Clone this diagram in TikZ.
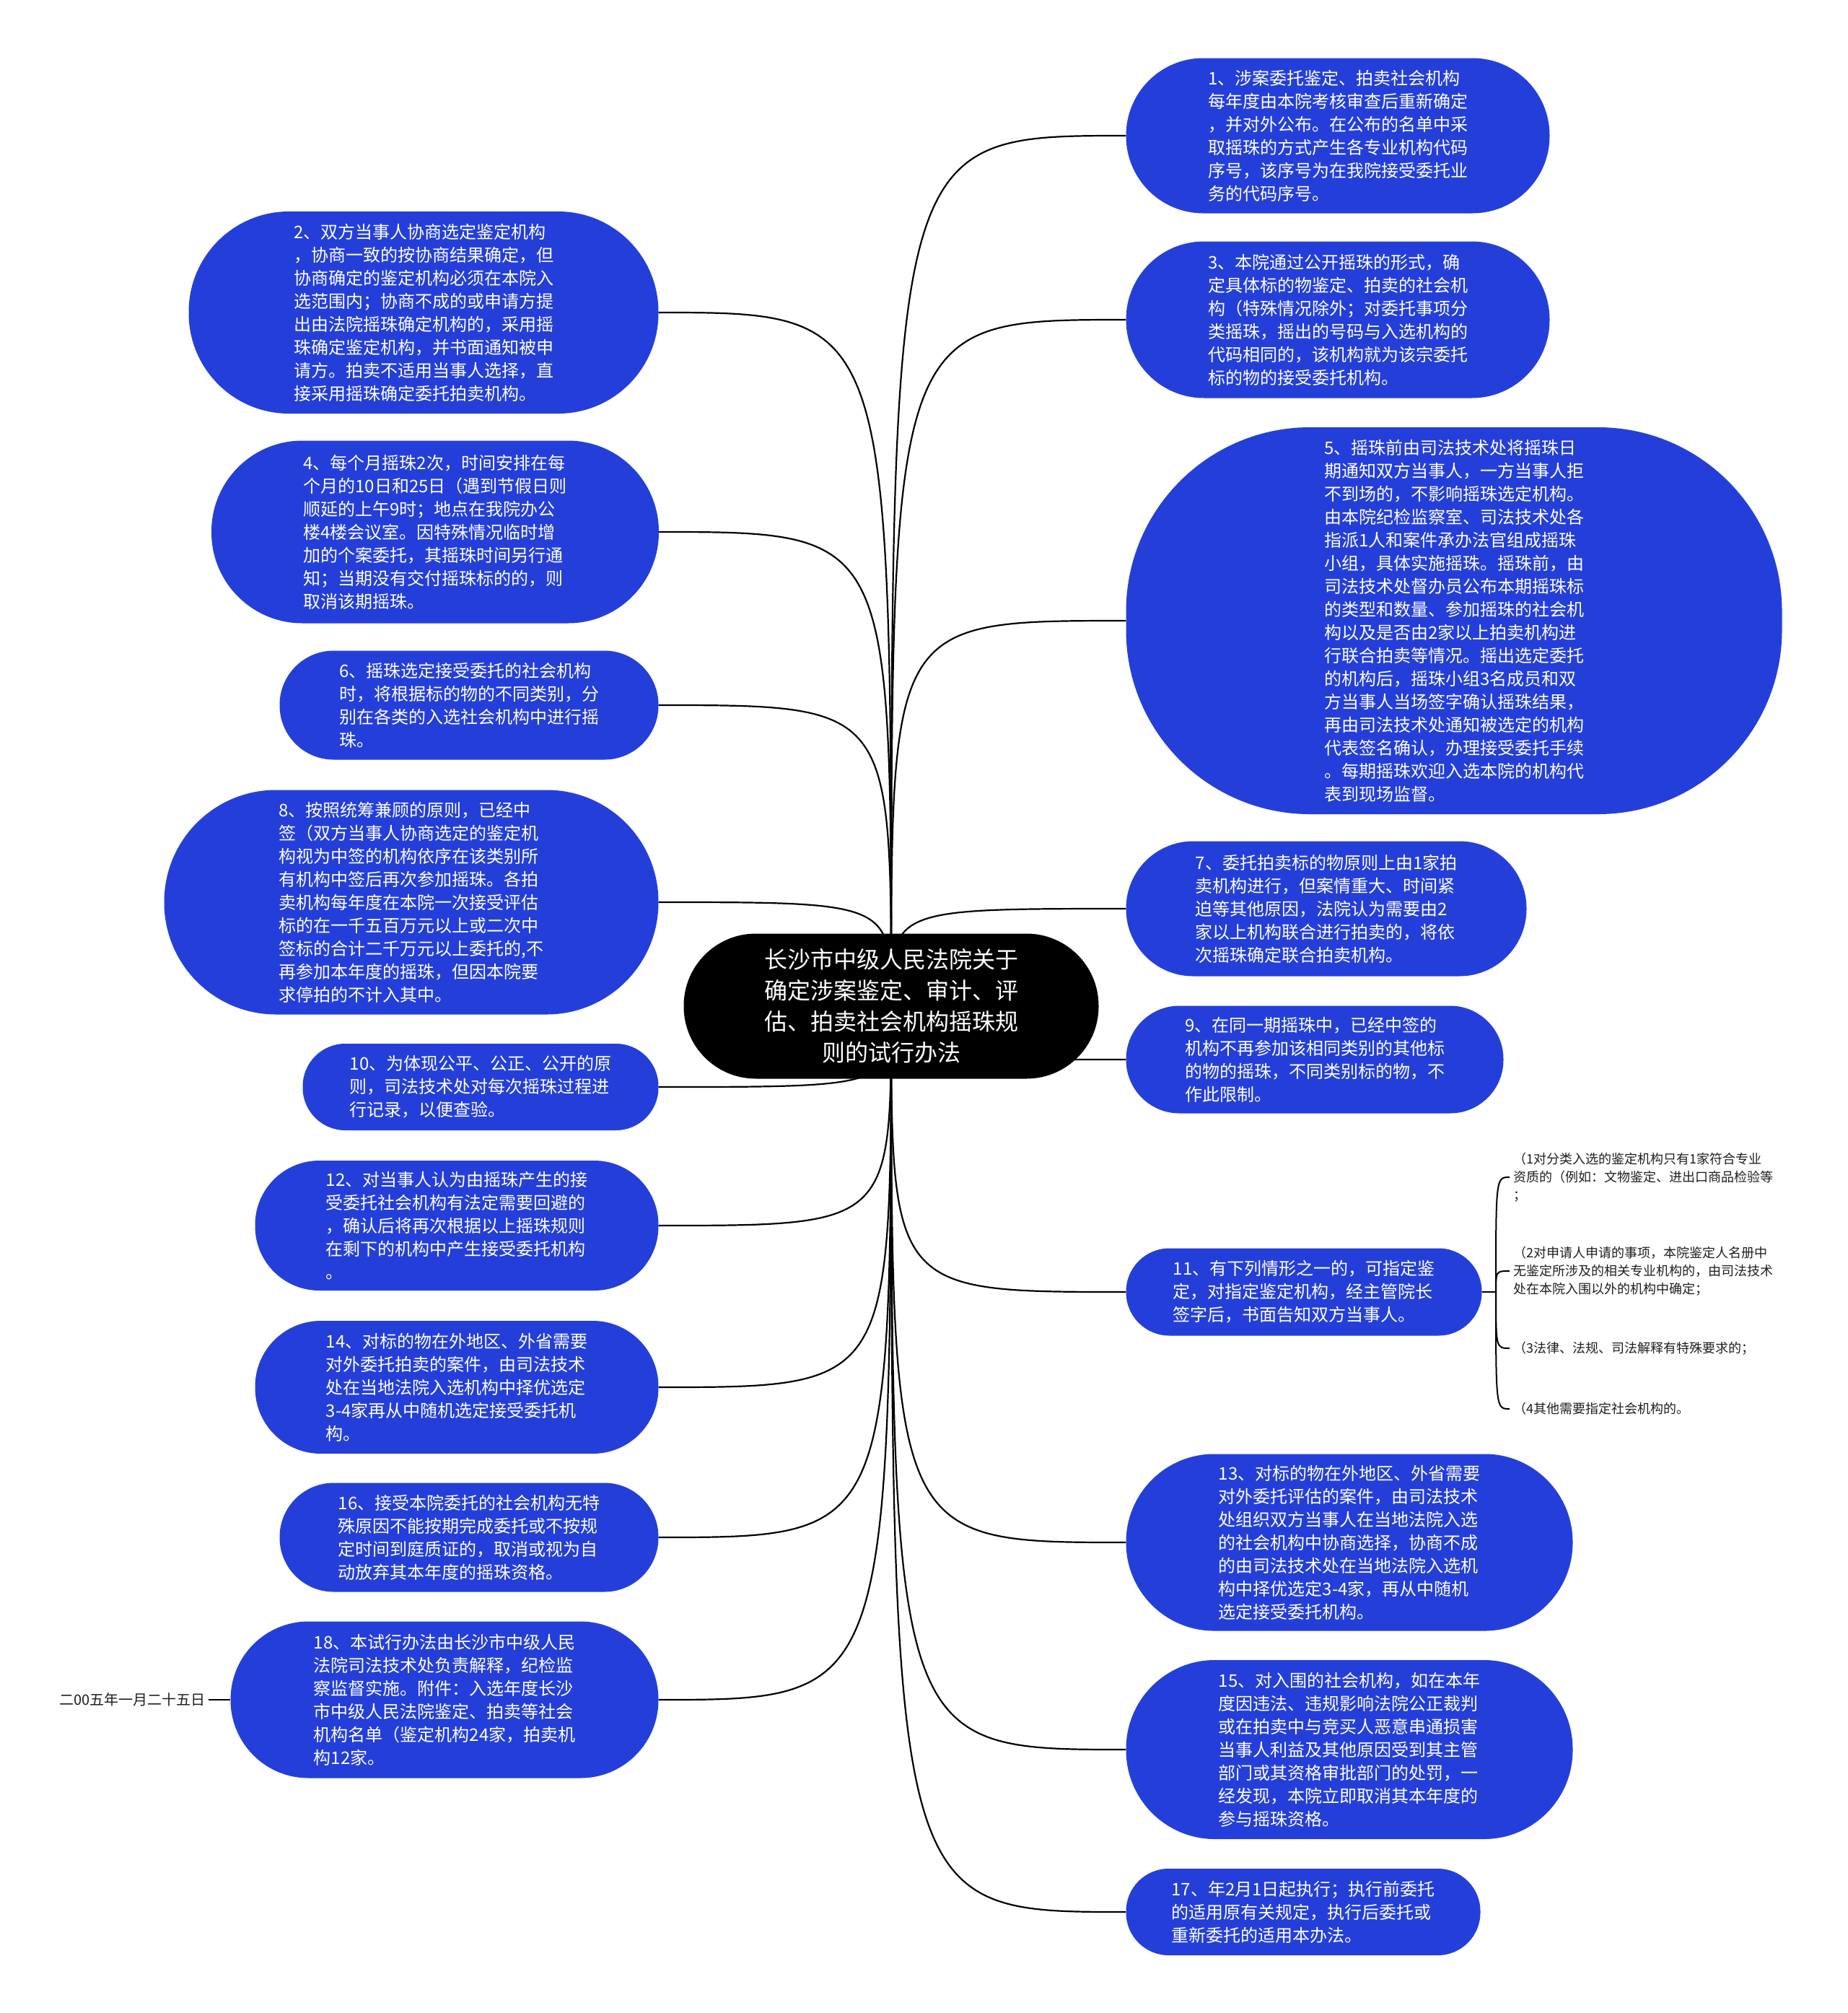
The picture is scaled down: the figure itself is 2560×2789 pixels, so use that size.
\documentclass[tikz,border=0pt]{standalone}
\usepackage{fontspec}
\setmainfont{Noto Sans CJK SC}
\definecolor{nodeblue}{RGB}{36,63,217}
\definecolor{subtext}{RGB}{30,30,30}
\pgfdeclarelayer{bg}
\pgfsetlayers{bg,main}
\begin{document}
\begin{tikzpicture}[x=1pt,y=-1pt,
  leaf/.style={fill=nodeblue, text=white, align=left, inner sep=0pt,
    font=\fontsize{24}{32}\selectfont},
  rootnode/.style={fill=black, text=white, align=center, inner sep=0pt,
    font=\fontsize{32}{43}\selectfont},
  subitem/.style={anchor=west, text=subtext, align=left, inner xsep=5pt, inner ysep=0pt,
    font=\fontsize{18}{25}\selectfont},
  conn/.style={draw=black, line width=2.2pt},
  subconn/.style={draw=black, line width=2pt}]
\useasboundingbox (0,0) rectangle (2560,2789);

% root
\node[rootnode, minimum width=575pt, minimum height=201pt, rounded corners=100pt] (root) at (1235,1394)
 {长沙市中级人民法院关于\\确定涉案鉴定、审计、评\\估、拍卖社会机构摇珠规\\则的试行办法};

% right side
\node[leaf, minimum width=587pt, minimum height=215pt, rounded corners=107pt] (n1) at (1854,188)
 {1、涉案委托鉴定、拍卖社会机构\\每年度由本院考核审查后重新确定\\，并对外公布。在公布的名单中采\\取摇珠的方式产生各专业机构代码\\序号，该序号为在我院接受委托业\\务的代码序号。};
\node[leaf, minimum width=587pt, minimum height=217pt, rounded corners=108pt] (n3) at (1854,443)
 {3、本院通过公开摇珠的形式，确\\定具体标的物鉴定、拍卖的社会机\\构（特殊情况除外；对委托事项分\\类摇珠，摇出的号码与入选机构的\\代码相同的，该机构就为该宗委托\\标的物的接受委托机构。};
\node[leaf, minimum width=909pt, minimum height=536pt, rounded corners=255pt] (n5) at (2015,860)
 {5、摇珠前由司法技术处将摇珠日\\期通知双方当事人，一方当事人拒\\不到场的，不影响摇珠选定机构。\\由本院纪检监察室、司法技术处各\\指派1人和案件承办法官组成摇珠\\小组，具体实施摇珠。摇珠前，由\\司法技术处督办员公布本期摇珠标\\的类型和数量、参加摇珠的社会机\\构以及是否由2家以上拍卖机构进\\行联合拍卖等情况。摇出选定委托\\的机构后，摇珠小组3名成员和双\\方当事人当场签字确认摇珠结果，\\再由司法技术处通知被选定的机构\\代表签名确认，办理接受委托手续\\。每期摇珠欢迎入选本院的机构代\\表到现场监督。};
\node[leaf, minimum width=555pt, minimum height=187pt, rounded corners=93pt] (n7) at (1838,1259)
 {7、委托拍卖标的物原则上由1家拍\\卖机构进行，但案情重大、时间紧\\迫等其他原因，法院认为需要由2\\家以上机构联合进行拍卖的，将依\\次摇珠确定联合拍卖机构。};
\node[leaf, minimum width=523pt, minimum height=149pt, rounded corners=74pt] (n9) at (1822,1468)
 {9、在同一期摇珠中，已经中签的\\机构不再参加该相同类别的其他标\\的物的摇珠，不同类别标的物，不\\作此限制。};
\node[leaf, minimum width=493pt, minimum height=121pt, rounded corners=60pt] (n11) at (1807,1790)
 {11、有下列情形之一的，可指定鉴\\定，对指定鉴定机构，经主管院长\\签字后，书面告知双方当事人。};
\node[leaf, minimum width=619pt, minimum height=245pt, rounded corners=122pt] (n13) at (1870,2137)
 {13、对标的物在外地区、外省需要\\对外委托评估的案件，由司法技术\\处组织双方当事人在当地法院入选\\的社会机构中协商选择，协商不成\\的由司法技术处在当地法院入选机\\构中择优选定3-4家，再从中随机\\选定接受委托机构。};
\node[leaf, minimum width=619pt, minimum height=248pt, rounded corners=123pt] (n15) at (1870,2424)
 {15、对入围的社会机构，如在本年\\度因违法、违规影响法院公正裁判\\或在拍卖中与竞买人恶意串通损害\\当事人利益及其他原因受到其主管\\部门或其资格审批部门的处罚，一\\经发现，本院立即取消其本年度的\\参与摇珠资格。};
\node[leaf, minimum width=491pt, minimum height=120pt, rounded corners=59pt] (n17) at (1806,2649)
 {17、年2月1日起执行；执行前委托\\的适用原有关规定，执行后委托或\\重新委托的适用本办法。};

% left side
\node[leaf, minimum width=651pt, minimum height=280pt, rounded corners=139pt] (n2) at (587,433)
 {2、双方当事人协商选定鉴定机构\\，协商一致的按协商结果确定，但\\协商确定的鉴定机构必须在本院入\\选范围内；协商不成的或申请方提\\出由法院摇珠确定机构的，采用摇\\珠确定鉴定机构，并书面通知被申\\请方。拍卖不适用当事人选择，直\\接采用摇珠确定委托拍卖机构。};
\node[leaf, minimum width=620pt, minimum height=253pt, rounded corners=126pt] (n4) at (603,737)
 {4、每个月摇珠2次，时间安排在每\\个月的10日和25日（遇到节假日则\\顺延的上午9时；地点在我院办公\\楼4楼会议室。因特殊情况临时增\\加的个案委托，其摇珠时间另行通\\知；当期没有交付摇珠标的的，则\\取消该期摇珠。};
\node[leaf, minimum width=525pt, minimum height=151pt, rounded corners=75pt] (n6) at (650,977)
 {6、摇珠选定接受委托的社会机构\\时，将根据标的物的不同类别，分\\别在各类的入选社会机构中进行摇\\珠。};
\node[leaf, minimum width=685pt, minimum height=311pt, rounded corners=155pt] (n8) at (570,1250)
 {8、按照统筹兼顾的原则，已经中\\签（双方当事人协商选定的鉴定机\\构视为中签的机构依序在该类别所\\有机构中签后再次参加摇珠。各拍\\卖机构每年度在本院一次接受评估\\标的在一千五百万元以上或二次中\\签标的合计二千万元以上委托的,不\\再参加本年度的摇珠，但因本院要\\求停拍的不计入其中。};
\node[leaf, minimum width=493pt, minimum height=120pt, rounded corners=59pt] (n10) at (666,1506)
 {10、为体现公平、公正、公开的原\\则，司法技术处对每次摇珠过程进\\行记录，以便查验。};
\node[leaf, minimum width=559pt, minimum height=180pt, rounded corners=89pt] (n12) at (633,1698)
 {12、对当事人认为由摇珠产生的接\\受委托社会机构有法定需要回避的\\，确认后将再次根据以上摇珠规则\\在剩下的机构中产生接受委托机构\\。};
\node[leaf, minimum width=559pt, minimum height=184pt, rounded corners=91pt] (n14) at (633,1922)
 {14、对标的物在外地区、外省需要\\对外委托拍卖的案件，由司法技术\\处在当地法院入选机构中择优选定\\3-4家再从中随机选定接受委托机\\构。};
\node[leaf, minimum width=525pt, minimum height=151pt, rounded corners=75pt] (n16) at (650,2130)
 {16、接受本院委托的社会机构无特\\殊原因不能按期完成委托或不按规\\定时间到庭质证的，取消或视为自\\动放弃其本年度的摇珠资格。};
\node[leaf, minimum width=593pt, minimum height=217pt, rounded corners=108pt] (n18) at (616,2355)
 {18、本试行办法由长沙市中级人民\\法院司法技术处负责解释，纪检监\\察监督实施。附件：入选年度长沙\\市中级人民法院鉴定、拍卖等社会\\机构名单（鉴定机构24家，拍卖机\\构12家。};

% date
\node[anchor=east, text=subtext, inner sep=4pt, font=\fontsize{20}{24}\selectfont] (date) at (289,2355) {二00五年一月二十五日};

% sub items of 11
\coordinate (hub) at (2073,1790);
\node[subitem] (s1) at (2092,1631) {（1对分类入选的鉴定机构只有1家符合专业\\资质的（例如：文物鉴定、进出口商品检验等\\；};
\node[subitem] (s2) at (2092,1761) {（2对申请人申请的事项，本院鉴定人名册中\\无鉴定所涉及的相关专业机构的，由司法技术\\处在本院入围以外的机构中确定；};
\node[subitem] (s3) at (2092,1868) {（3法律、法规、司法解释有特殊要求的；};
\node[subitem] (s4) at (2092,1952) {（4其他需要指定社会机构的。};

\begin{pgfonlayer}{bg}
\foreach \n in {n1,n3,n5,n7,n9,n11,n13,n15,n17}
  \draw[conn] (root.center) .. controls (root.center |- \n.west) .. (\n.west);
\foreach \n in {n2,n4,n6,n8,n10,n12,n14,n16,n18}
  \draw[conn] (root.center) .. controls (root.center |- \n.east) .. (\n.east);
\end{pgfonlayer}
\draw[subconn] (n11.east) -- (hub);
\foreach \s in {s1,s2,s3,s4}
  \draw[subconn] (hub) .. controls (hub |- \s.west) .. (\s.west);
\draw[subconn] (date.east) -- (n18.west);
\end{tikzpicture}
\end{document}
